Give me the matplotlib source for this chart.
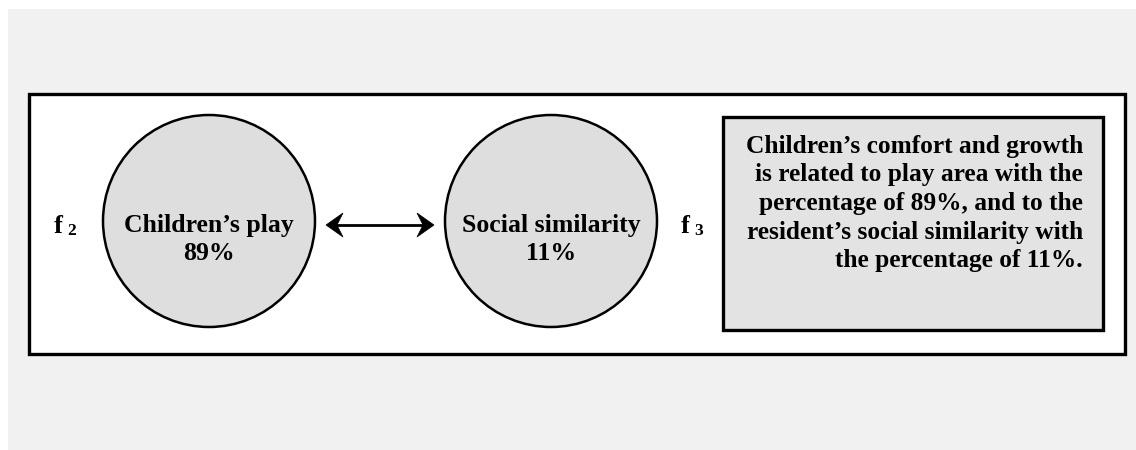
import matplotlib.pyplot as plt
from matplotlib.patches import Rectangle, Circle, Polygon

# diagram content
factor_labels = ["f", "f"]
factor_subs = ["2", "3"]
circle_names = ["Children\u2019s play", "Social similarity"]
circle_values = [89, 11]
summary_lines = [
    "Children\u2019s comfort and growth",
    "is related to play area with the",
    "percentage of 89%, and to the",
    "resident\u2019s social similarity with",
    "the percentage of 11%.",
]


def arrow_head(ax, tip, direction, y, length=17, half=12, notch=6):
    back = tip - direction * length
    pts = [(tip, y), (back, y - half), (tip - direction * (length - notch), y), (back, y + half)]
    ax.add_patch(Polygon(pts, closed=True, facecolor='black', edgecolor='black', lw=0.5))


def main():
    plt.rcParams['font.family'] = ['Liberation Serif', 'DejaVu Serif']
    fig = plt.figure(figsize=(11.36, 4.5), dpi=100)
    fig.patch.set_facecolor('white')
    ax = fig.add_axes([0, 0, 1, 1])
    ax.set_xlim(0, 1136)
    ax.set_ylim(450, 0)
    ax.axis('off')

    # light gray background panel
    ax.add_patch(Rectangle((8, 9), 1140, 450, facecolor='#f1f1f1', edgecolor='none'))
    # outer frame
    ax.add_patch(Rectangle((29, 94), 1096, 260, facecolor='white', edgecolor='black', lw=2.4))

    # circles
    cx = [209, 551]
    for i, x in enumerate(cx):
        ax.add_patch(Circle((x, 221), 106, facecolor='#dedede', edgecolor='black', lw=1.8))
        ax.text(x, 232, circle_names[i], ha='center', va='baseline',
                fontsize=18.5, fontweight='bold')
        ax.text(x, 260, f"{circle_values[i]}%", ha='center', va='baseline',
                fontsize=18.5, fontweight='bold')

    # factor labels
    fx = [58, 685]
    for i, x in enumerate(fx):
        ax.text(x, 233, factor_labels[i], ha='center', va='baseline', fontsize=19, fontweight='bold')
        ax.text(x + 14, 235, factor_subs[i], ha='center', va='baseline', fontsize=12.5, fontweight='bold')

    # double arrow
    x0, x1, ay = 326, 434, 225
    ax.plot([x0 + 10, x1 - 10], [ay, ay], color='black', lw=2, solid_capstyle='butt')
    arrow_head(ax, x0, -1, ay)
    arrow_head(ax, x1, 1, ay)

    # summary box
    ax.add_patch(Rectangle((723, 117), 380, 213, facecolor='#e3e3e3', edgecolor='black', lw=2.4))
    for j, line in enumerate(summary_lines):
        ax.text(1083, 153 + j * 28.5, line, ha='right', va='baseline',
                fontsize=18.3, fontweight='bold')

    fig.savefig('out.png', dpi=100)


if __name__ == '__main__':
    main()
